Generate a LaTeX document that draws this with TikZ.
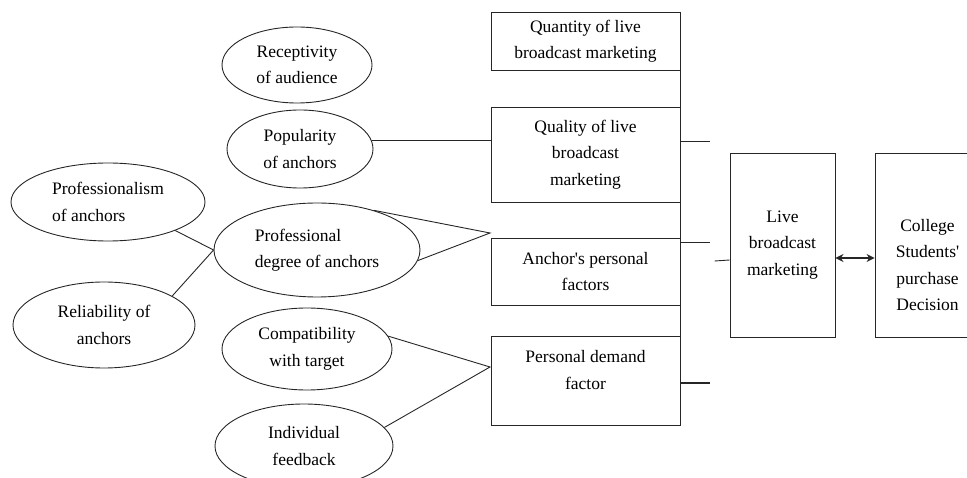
\documentclass[tikz,border=0pt]{standalone}
\usepackage{fontspec}
\setmainfont{Liberation Serif}
\usetikzlibrary{shapes.geometric,arrows.meta}

\begin{document}
\begin{tikzpicture}[x=1pt, y=-1pt,
    line width=0.9pt, draw=black!85,
    txt/.style={font=\fontsize{17.5}{26.5}\selectfont, align=center, inner sep=0pt},
    oval/.style={txt, ellipse, draw, inner sep=0pt},
    box/.style={txt, rectangle, draw, minimum width=189pt}]
    \clip (0,0) rectangle (967,478);

    % left factors
    \node[oval, minimum width=150pt, minimum height=76pt] (recep) at (297,65) {Receptivity\\of audience};
    \node[oval, minimum width=146pt, minimum height=78pt] (pop) at (300,149) {Popularity\\of anchors};
    \node[oval, minimum width=194pt, minimum height=78pt, align=left] (prof) at (108,202) {Professionalism\\of anchors};
    \node[oval, minimum width=206pt, minimum height=94pt, align=left] (pdeg) at (317,250) {Professional\\degree of anchors};
    \node[oval, minimum width=182pt, minimum height=86pt] (reli) at (104,325) {Reliability of\\anchors};
    \node[oval, minimum width=170pt, minimum height=82pt] (comp) at (307,349) {Compatibility\\with target};
    \node[oval, minimum width=178pt, minimum height=84pt] (indi) at (304,446) {Individual\\feedback};

    % middle boxes
    \node[box, minimum height=58pt] (quan) at (585.5,41) {Quantity of live\\broadcast marketing};
    \node[box, minimum height=95pt] (qual) at (585.5,154.5) {Quality of live\\broadcast\\marketing};
    \node[box, minimum height=67pt] (anch) at (585.5,271.5) {Anchor\textquotesingle s personal\\factors};
    \node[box, minimum height=89pt] (pdem) at (585.5,380.5) {};
    \node[txt] (pdemtxt) at (585.5,370) {Personal demand\\factor};

    % right boxes
    \node[box, minimum width=105pt, minimum height=184pt] (live) at (782.5,245) {Live\\broadcast\\marketing};
    \node[box, minimum width=105pt, minimum height=184pt] (coll) at (927.5,245) {};
    \node[txt] (colltxt) at (927.5,265) {College\\Students\textquotesingle\\purchase\\Decision};

    \coordinate (aj) at (490,233);
    \coordinate (pj) at (490,367);
    \coordinate (s1) at (710,141);
    \coordinate (s2) at (710,242);
    \coordinate (s3) at (710,383);

    \draw (pop.7) -- (pop.7 -| qual.west);
    \draw (prof.-23) -- (pdeg.west);
    \draw (reli.23) -- (pdeg.west);
    \draw (pdeg.35) -- (aj) -- (pdeg.-6);
    \draw (comp.9) -- (pj) -- (indi.13);

    \draw (quan.north east) -- (pdem.south east);
    \draw (s1 -| quan.east) -- (s1);
    \draw (s2 -| quan.east) -- (s2);
    \draw[line width=1.6pt] (s3 -| quan.east) -- (s3);
    \draw ([yshift=-15pt]live.west) -- ++(-15,1);
    \draw[line width=1.2pt, {Stealth[length=8pt,width=8pt]}-{Stealth[length=8pt,width=8pt]}] ([yshift=-13pt]live.east) -- ([yshift=-13pt]coll.west);
\end{tikzpicture}
\end{document}
